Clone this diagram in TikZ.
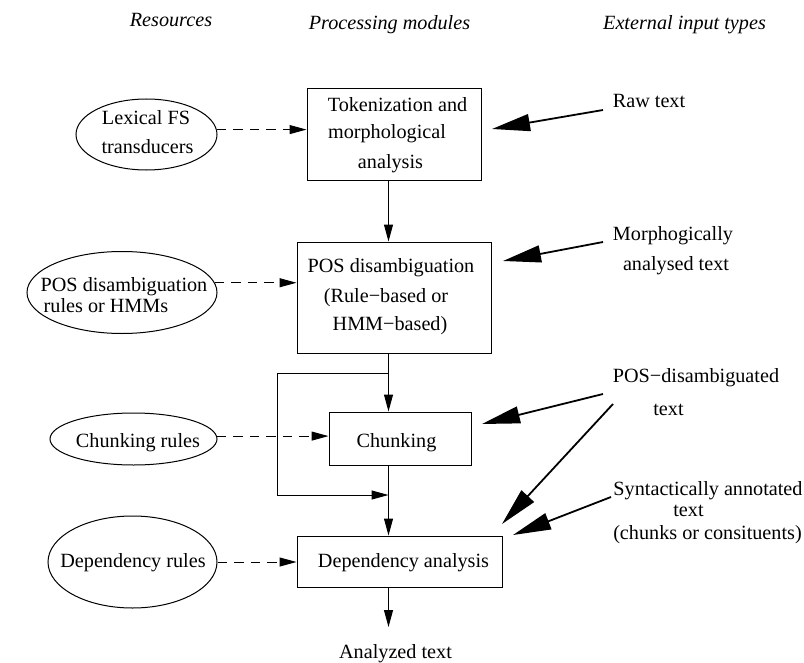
\documentclass[tikz,border=0pt]{standalone}
\usepackage{fontspec}
\setmainfont{Liberation Serif}
\usetikzlibrary{shapes.geometric,arrows.meta}
\begin{document}
\begin{tikzpicture}[x=1bp,y=-1bp,
 lbl/.style={inner sep=0pt, font=\fontsize{20.2bp}{24bp}\selectfont, text height=14bp, text depth=4bp},
 hdr/.style={lbl, font=\fontsize{20.2bp}{24bp}\selectfont\itshape},
 proc/.style={draw, line width=1bp, inner sep=0pt},
 res/.style={draw, ellipse, line width=1bp, inner sep=0pt},
 flow/.style={line width=1bp, -{Triangle[length=17bp,width=9bp]}},
 dashflow/.style={flow, dash pattern=on 9.5bp off 7bp},
 ext/.style={line width=1.8bp, -{Triangle[length=38bp,width=17bp]}},
]
\useasboundingbox (0,0) rectangle (804,663);

% headers
\node[hdr] (h1) at (171,22) {Resources};
\node[hdr] (h2) at (389.5,25) {Processing modules};
\node[hdr] (h3) at (684.5,25) {External input types};

% processing boxes
\node[proc, minimum width=174bp, minimum height=91bp] (tok) at (394,134.5) {};
\node[proc, minimum width=194bp, minimum height=111bp] (pos) at (394,297.5) {};
\node[proc, minimum width=142bp, minimum height=53bp] (chunk) at (400,438.5) {};
\node[proc, minimum width=205bp, minimum height=51bp] (dep) at (399.5,561.5) {};

\node[lbl] (tok1) at (397.5,107) {Tokenization and};
\node[lbl] (tok2) at (387,134) {morphological};
\node[lbl] (tok3) at (390.5,163) {analysis};
\node[lbl] (pos1) at (391,267) {POS disambiguation};
\node[lbl] (pos2) at (386,297) {(Rule−based or};
\node[lbl] (pos3) at (390,325) {HMM−based)};
\node[lbl] (chunkt) at (396.5,442) {Chunking};
\node[lbl] (dept) at (403.5,562) {Dependency analysis};
\node[lbl] (outt) at (395.5,653) {Analyzed text};

% resources
\node[res, minimum width=141bp, minimum height=71bp] (lex) at (146.5,134.5) {};
\node[res, minimum width=190bp, minimum height=82bp] (pell) at (122,292.5) {};
\node[res, minimum width=167bp, minimum height=52bp] (cell) at (133.5,439) {};
\node[res, minimum width=169bp, minimum height=92bp] (dell) at (132.5,562) {};

\node[lbl] (lex1) at (146,120) {Lexical FS};
\node[lbl] (lex2) at (147.5,149) {transducers};
\node[lbl] (pell1) at (124,286) {POS disambiguation};
\node[lbl] (pell2) at (106,307) {rules or HMMs};
\node[lbl] (cellt) at (138,442) {Chunking rules};
\node[lbl] (dellt) at (133,562) {Dependency rules};

% external input texts
\node[lbl] (raw) at (649,103) {Raw text};
\node[lbl] (mor1) at (673,235) {Morphogically};
\node[lbl] (mor2) at (676,265) {analysed text};
\node[lbl] (pd1) at (696,377) {POS−disambiguated};
\node[lbl] (pd2) at (668.5,410) {text};
\node[lbl] (syn1) at (708,490) {Syntactically annotated};
\node[lbl] (syn2) at (688.5,511) {text};
\node[lbl] (syn3) at (707.5,534) {(chunks or consituents)};

% main flow
\coordinate (spine) at (388.5,0);
\coordinate (out) at (388.5,627);
\coordinate (lt) at (388.5,373);
\coordinate (lb) at (388.5,495);
\coordinate (loopL) at (277,0);
\draw[flow] (tok.south -| spine) -- (pos.north -| spine);
\draw[flow] (pos.south -| spine) -- (chunk.north -| spine);
\draw[flow] (chunk.south -| spine) -- (dep.north -| spine);
\draw[flow] (dep.south -| spine) -- (out);
\draw[flow] (lt) -| (loopL |- lb) -- (lb);

% resource arrows
\draw[dashflow] (lex.4.5) -- (tok.west |- lex.4.5);
\draw[dashflow] (pell.6.5) -- (pos.west |- pell.6.5);
\draw[dashflow] (cell.2.8) -- (chunk.west |- cell.2.8);
\draw[dashflow] (dell.east) -- (dep.west |- dell.east);

% external arrows
\coordinate (rawT) at (603,110);   \coordinate (rawH) at (492,129);
\coordinate (morT) at (603,242);   \coordinate (morH) at (503,261);
\coordinate (pdT) at (603,394);    \coordinate (pdH) at (482,424);
\coordinate (pdT2) at (613,404);   \coordinate (pdH2) at (502,524);
\coordinate (synT) at (611,497);   \coordinate (synH) at (513,535);
\draw[ext] (rawT) -- (rawH);
\draw[ext] (morT) -- (morH);
\draw[ext] (pdT) -- (pdH);
\draw[ext] (pdT2) -- (pdH2);
\draw[ext] (synT) -- (synH);
\end{tikzpicture}
\end{document}
